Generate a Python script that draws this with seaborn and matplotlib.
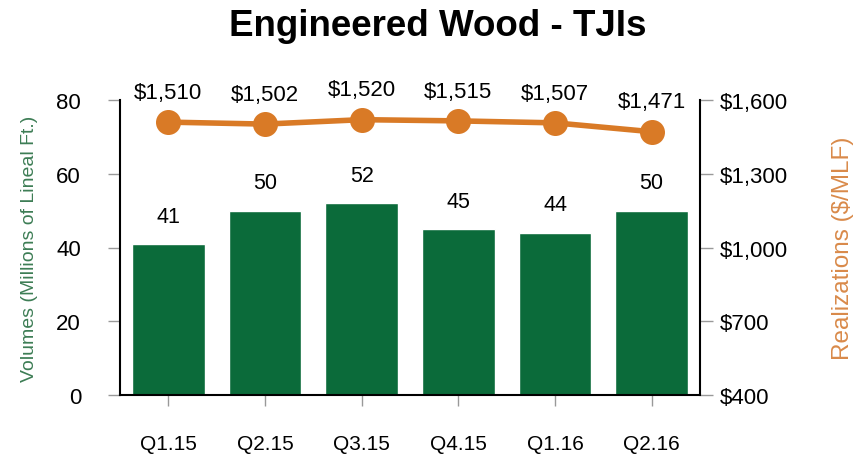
import matplotlib
matplotlib.use('Agg')
import matplotlib.pyplot as plt
import seaborn as sns
from matplotlib.ticker import FuncFormatter

# Data
quarters = ['Q1.15', 'Q2.15', 'Q3.15', 'Q4.15', 'Q1.16', 'Q2.16']
volumes = [41, 50, 52, 45, 44, 50]
prices = [1510, 1502, 1520, 1515, 1507, 1471]

green = '#0b6b3a'
orange = '#d97a26'

sns.set_style('white')
plt.rcParams['font.family'] = ['Liberation Sans', 'DejaVu Sans']
plt.rcParams['text.color'] = 'black'
plt.rcParams['xtick.color'] = 'black'
plt.rcParams['ytick.color'] = 'black'

fig = plt.figure(figsize=(8.67, 4.56), dpi=100)
ax = fig.add_axes([120/867, 1-396/456, 580/867, 295/456])

sns.barplot(x=quarters, y=volumes, ax=ax, color=green, saturation=1, width=0.75)
ax.set_ylim(0, 80)
ax.set_xlim(-0.5, 5.5)
ax.set_yticks([0, 20, 40, 60, 80])
ax.set_xlabel('')
ax.set_ylabel('Volumes (Millions of Lineal Ft.)', color='#3d7d55', fontsize=14)
ax.yaxis.set_label_coords(-0.142, 0.5)

for i, v in enumerate(volumes):
    ax.annotate(str(v), (i, v), xytext=(0, 20), textcoords='offset points',
                ha='center', va='center', fontsize=15.5, color='black')

ax2 = ax.twinx()
sns.pointplot(x=quarters, y=prices, ax=ax2, color=orange, errorbar=None,
              markersize=15, linewidth=4)
ax2.set_ylim(400, 1600)
ax2.set_yticks([400, 700, 1000, 1300, 1600])
ax2.yaxis.set_major_formatter(FuncFormatter(lambda v, p: '${:,.0f}'.format(v)))
ax2.set_ylabel('Realizations ($/MLF)', color='#d98a4a', fontsize=17.5)
ax2.yaxis.set_label_coords(1.228, 0.5)
ax2.set_xlim(-0.5, 5.5)

for i, p in enumerate(prices):
    ax2.annotate('${:,}'.format(p), (i, p), xytext=(0, 21.5), textcoords='offset points',
                 ha='center', va='center', fontsize=16, color='black')

for a in (ax, ax2):
    a.spines['top'].set_visible(False)
    for s in a.spines.values():
        s.set_color('black')
        s.set_linewidth(1.5)

ax.spines['right'].set_visible(False)
ax2.spines['left'].set_visible(False)
ax2.spines['bottom'].set_visible(False)

ax.tick_params(axis='y', direction='out', length=9, width=1, color='#999999',
               labelcolor='black', pad=19, labelsize=16, left=True)
ax.tick_params(axis='x', direction='out', length=8, width=1, color='#999999',
               labelcolor='black', pad=20, labelsize=15, bottom=True)
ax2.tick_params(axis='y', direction='out', length=9, width=1, color='#999999',
                labelcolor='black', pad=5, labelsize=16, right=True)

fig.text(438/867, 1-26/456, 'Engineered Wood - TJIs', ha='center', va='center',
         fontsize=26.5, fontweight='bold', color='black')

fig.savefig('out.png', dpi=100)
